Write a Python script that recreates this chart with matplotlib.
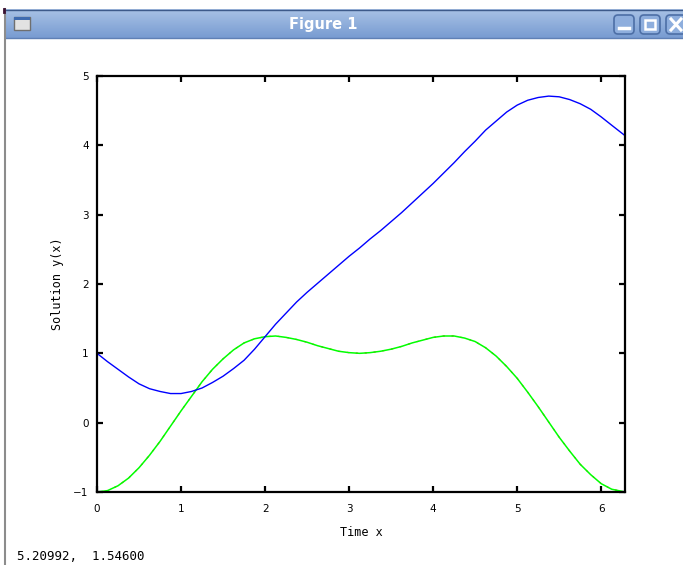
import numpy as np
import matplotlib
matplotlib.use('Agg')
from matplotlib import pyplot as plt
from matplotlib.patches import Rectangle, FancyBboxPatch

# sample points along time axis (last one is 2*pi)
x = [0.0, 0.125, 0.25, 0.375, 0.5, 0.625, 0.75, 0.875, 1.0, 1.125, 1.25,
     1.375, 1.5, 1.625, 1.75, 1.875, 2.0, 2.125, 2.25, 2.375, 2.5, 2.625,
     2.75, 2.875, 3.0, 3.125, 3.25, 3.375, 3.5, 3.625, 3.75, 3.875, 4.0,
     4.125, 4.25, 4.375, 4.5, 4.625, 4.75, 4.875, 5.0, 5.125, 5.25, 5.375,
     5.5, 5.625, 5.75, 5.875, 6.0, 6.125, 6.2832]

# blue curve
y_blue = [1.00, 0.88, 0.77, 0.66, 0.56, 0.49, 0.45, 0.42, 0.42, 0.45, 0.50,
          0.58, 0.67, 0.78, 0.90, 1.06, 1.24, 1.42, 1.58, 1.74, 1.88, 2.01,
          2.14, 2.27, 2.40, 2.52, 2.65, 2.77, 2.90, 3.03, 3.17, 3.31, 3.45,
          3.60, 3.75, 3.91, 4.06, 4.22, 4.35, 4.48, 4.58, 4.65, 4.69, 4.71,
          4.70, 4.66, 4.60, 4.52, 4.41, 4.29, 4.14]

# green (numerical) and red (exact) curves lie on top of each other
y_green = [-1.00, -0.98, -0.91, -0.80, -0.65, -0.47, -0.27, -0.05, 0.17,
           0.38, 0.59, 0.77, 0.92, 1.05, 1.15, 1.21, 1.24, 1.25, 1.23, 1.20,
           1.16, 1.11, 1.07, 1.03, 1.01, 1.00, 1.01, 1.03, 1.06, 1.10, 1.15,
           1.19, 1.23, 1.25, 1.25, 1.22, 1.17, 1.08, 0.96, 0.81, 0.64, 0.44,
           0.23, 0.01, -0.21, -0.41, -0.60, -0.75, -0.88, -0.96, -1.00]
y_red = list(y_green)

xticks = [0, 1, 2, 3, 4, 5, 6]
yticks = [-1, 0, 1, 2, 3, 4, 5]
status = "5.20992,  1.54600"

W, H = 683, 565
fig = plt.figure(figsize=(W / 100, H / 100), dpi=100)
fig.patch.set_facecolor('white')

# window chrome drawn in pixel coordinates
bg = fig.add_axes([0, 0, 1, 1], zorder=0)
bg.set_xlim(0, W)
bg.set_ylim(H, 0)
bg.axis('off')

grad = np.linspace(0, 1, 64).reshape(-1, 1)
top = np.array([0.66, 0.76, 0.90])
bot = np.array([0.47, 0.61, 0.82])
img = top + (bot - top) * grad[..., None]
bg.imshow(img, extent=[5, W, 38, 9], aspect='auto', zorder=1)
bg.plot([5, W], [9.5, 9.5], color='#3d5a8a', lw=1, zorder=2)
bg.plot([5, W], [38, 38], color='#5f80b5', lw=1, zorder=2)
bg.plot([5, 5], [9, H], color='#8c8c8c', lw=1.5, zorder=2)
bg.plot([4, 4], [9, 12], color='#3a1030', lw=2, zorder=2)

# window icon
bg.add_patch(Rectangle((14, 17), 16, 13, facecolor='#e2e2e2', edgecolor='#6f6f6f', lw=1, zorder=3))
bg.add_patch(Rectangle((14, 17), 16, 3, facecolor='#3f6bb0', edgecolor='none', zorder=4))

bg.text(323, 24, "Figure 1", color='white', fontsize=10.5, fontweight='bold',
        ha='center', va='center', zorder=5)

# title bar buttons
for bx in [614, 640, 666]:
    bg.add_patch(FancyBboxPatch((bx, 15), 20, 19, boxstyle='round,pad=0,rounding_size=4',
                                facecolor='#8eaedd', edgecolor='#4d6fa6', lw=1.2, zorder=3))
bg.plot([619, 629], [28, 28], color='white', lw=2.5, zorder=4)
bg.add_patch(Rectangle((645, 20), 10, 9, facecolor='none', edgecolor='white', lw=1.8, zorder=4))
bg.plot([671, 681], [19, 30], color='white', lw=2.2, zorder=4)
bg.plot([671, 681], [30, 19], color='white', lw=2.2, zorder=4)

# main plot
ax = fig.add_axes([97 / W, 1 - 492 / H, 528 / W, 416 / H], zorder=2)
ax.plot(x, y_red, color='#ff0000', lw=0.8, dashes=(2, 6))
ax.plot(x, y_green, color='#00ff00', lw=1.1)
ax.plot(x, y_blue, color='#0000ff', lw=1.0)

ax.set_xlim(0, 2 * np.pi)
ax.set_ylim(-1, 5)
ax.set_xticks(xticks)
ax.set_yticks(yticks)
ax.set_yticklabels([str(t).replace('-', '\u2212') for t in yticks])
for s in ax.spines.values():
    s.set_linewidth(1.6)
ax.tick_params(direction='in', length=4, width=1.6, top=True, right=True,
               labelsize=7.5)
ax.tick_params(axis='x', pad=9)
ax.tick_params(axis='y', pad=6)
for lab in ax.get_xticklabels() + ax.get_yticklabels():
    lab.set_family('DejaVu Sans')

ax.set_xlabel("Time x", family='DejaVu Sans Mono', fontsize=8.5)
ax.set_ylabel("Solution y(x)", family='DejaVu Sans Mono', fontsize=8.5)
ax.xaxis.set_label_coords(0.5, (492 - 533) / 416)
ax.xaxis.label.set_va('center')
ax.yaxis.set_label_coords((58 - 97) / 528, 0.5)
ax.yaxis.label.set_va('center')

fig.text(17 / W, 1 - 557 / H, status, family='DejaVu Sans Mono', fontsize=9,
         ha='left', va='center')

fig.savefig("out.png", dpi=100)
plt.close(fig)
